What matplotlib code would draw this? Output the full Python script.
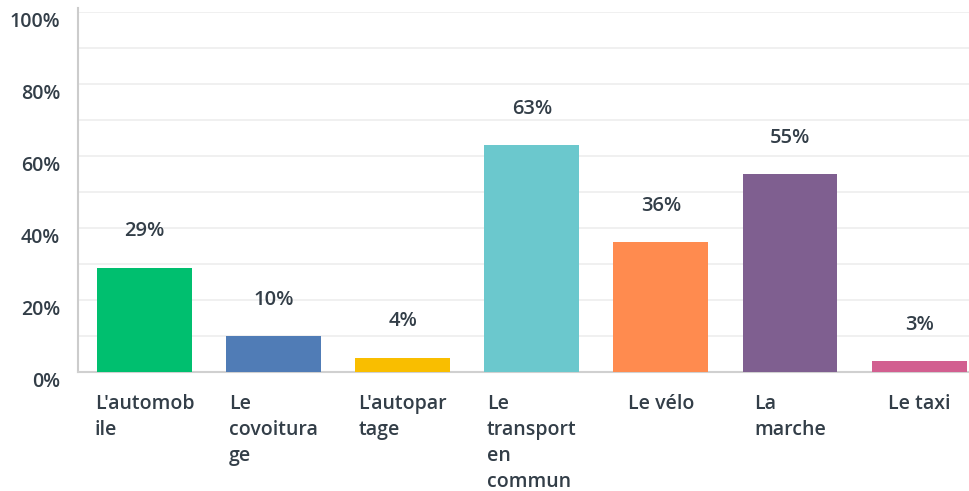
import matplotlib
matplotlib.use("Agg")
import matplotlib.pyplot as plt

categories = ["L'automob\nile", "Le\ncovoitura\nge", "L'autopar\ntage",
              "Le\ntransport\nen\ncommun", "Le vélo", "La\nmarche", "Le taxi"]
values = [29, 10, 4, 63, 36, 55, 3]
colors = ["#00bf6f", "#507cb6", "#f9be00", "#6bc8cd", "#ff8b4f", "#7f5f90", "#d25f90"]
yticks = [0, 20, 40, 60, 80, 100]

TXT = "#333e48"
plt.rcParams['font.family'] = ['Open Sans', 'DejaVu Sans']

fig = plt.figure(figsize=(9.69, 4.91), dpi=100)
ax = fig.add_axes([78/969, 1 - 372/491, (969-78)/969, (372-12)/491])

x = list(range(len(values)))
ax.bar(x, values, width=0.735, color=colors, zorder=3)
for xi, v in zip(x, values):
    ax.annotate(f"{v}%", (xi, v), xytext=(0, 19), textcoords="offset points",
                ha="center", va="bottom", fontsize=14.5, color=TXT, fontweight="semibold")

ax.set_xlim(-0.515, 6.386)
ax.set_ylim(0, 100)
ax.set_yticks(yticks)
ax.set_yticks(range(10, 100, 20), minor=True)
ax.yaxis.grid(True, which="both", color="#ededed", lw=1.2, zorder=0)
ax.set_yticklabels([f"{t}%" for t in yticks], fontsize=14, color=TXT, fontweight="semibold")
ax.tick_params(axis="y", which="both", length=0, pad=13)
for lbl in ax.get_yticklabels():
    lbl.set_va("top")
ax.set_xticks(x)
ax.set_xticklabels(categories, fontsize=14, color=TXT, fontweight="semibold",
                   linespacing=1.4, va="top", ha="center", multialignment="left")
ax.tick_params(axis="x", length=0, pad=16)

for s in ["top", "right"]:
    ax.spines[s].set_visible(False)
ax.spines["left"].set_color("#cccccc")
ax.spines["left"].set_linewidth(1.5)
ax.spines["left"].set_bounds(0, 101)
ax.spines["bottom"].set_color("#d0d0d0")
ax.spines["bottom"].set_linewidth(1.5)

fig.savefig("out.png", dpi=100)
